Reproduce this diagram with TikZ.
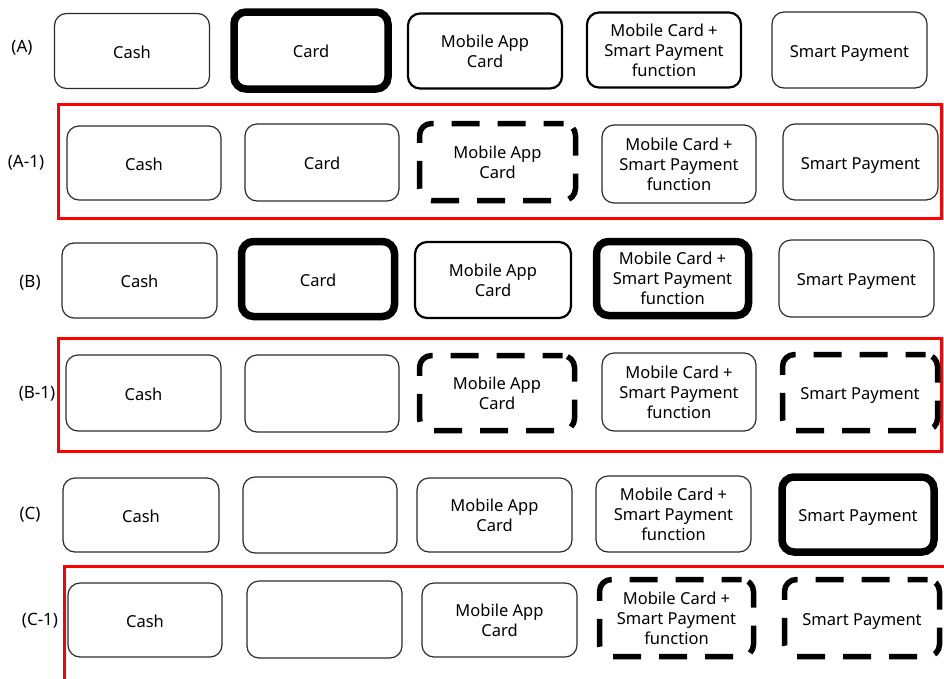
\documentclass[tikz,border=0pt]{standalone}
\usepackage{fontspec}
\setmainfont{Noto Sans}
\definecolor{cFrame}{HTML}{FF0000}
\definecolor{cEdge}{HTML}{2B2B2B}
\tikzset{
  pay/.style={draw=cEdge, line width=1.2pt, rounded corners=12pt, align=center,
    minimum width=155pt, minimum height=75pt, inner sep=2pt,
    font=\fontsize{16.5}{20}\selectfont},
  one/.style={text height=17pt, text depth=3pt},
  paymid/.style={pay, draw=black, line width=2.2pt},
  paybold/.style={pay, draw=black, line width=7.5pt},
  paydash/.style={pay, draw=black, line width=5.5pt, dash pattern=on 28pt off 18pt, dash phase=8pt},
  redframe/.style={draw=cFrame, line width=3pt},
  rowlbl/.style={font=\fontsize{17}{20}\selectfont}
}
\begin{document}
\begin{tikzpicture}[x=1pt, y=-1pt]
  \useasboundingbox (0,0) rectangle (944,678);
  \clip (0,0) rectangle (944,678);
  % moldura vermelha
  \draw[redframe] (58.5,104.5) rectangle (941.5,218.5);
  \draw[redframe] (58.5,338.5) rectangle (941.5,451.5);
  \draw[redframe] (64.5,700) -- (64.5,566.5) -- (960,566.5);
  % linha (A)
  \node[rowlbl] (lA) at (22,48) {(A)};
  \node[pay, one] (Acash) at (132,51) {Cash};
  \node[paybold, one, minimum width=154pt, minimum height=77pt] (Acard) at (311,50.5) {Card};
  \node[paymid, minimum width=154pt] (Aapp) at (485,51) {Mobile App\\Card};
  \node[paymid, minimum width=154pt] (Amob) at (664,50) {Mobile Card +\\Smart Payment\\function};
  \node[pay, one, minimum height=76pt] (Asmart) at (849.5,50) {Smart Payment};
  % linha (A-1)
  \node[rowlbl] (lA1) at (26,163) {(A-1)};
  \node[pay, one, minimum width=154pt, minimum height=74pt] (A1cash) at (144,163) {Cash};
  \node[pay, one, minimum width=154pt, minimum height=77pt] (A1card) at (322,162.5) {Card};
  \node[paydash, minimum width=156pt, minimum height=77pt] (A1app) at (497.5,162) {Mobile App\\Card};
  \node[pay, minimum width=154pt, minimum height=78pt] (A1mob) at (679,164) {Mobile Card +\\Smart Payment\\function};
  \node[pay, one, minimum height=76pt] (A1smart) at (860.5,162) {Smart Payment};
  % linha (B)
  \node[rowlbl] (lB) at (30,283) {(B)};
  \node[pay, one] (Bcash) at (139.5,280.5) {Cash};
  \node[paybold, one, minimum width=153pt] (Bcard) at (318,279) {Card};
  \node[paymid, minimum width=156pt, minimum height=76pt] (Bapp) at (493,280) {Mobile App\\Card};
  \node[paybold, minimum width=152pt, minimum height=74pt] (Bmob) at (672.5,278.5) {Mobile Card +\\Smart Payment\\function};
  \node[pay, one, minimum height=77pt] (Bsmart) at (856.5,278.5) {Smart Payment};
  % linha (B-1)
  \node[rowlbl] (lB1) at (37,394) {(B-1)};
  \node[pay, one, minimum height=76pt] (B1cash) at (143.5,393) {Cash};
  \node[pay, minimum width=154pt, minimum height=77pt] (B1card) at (322,393.5) {};
  \node[paydash] (B1app) at (497,393) {Mobile App\\Card};
  \node[pay, minimum width=154pt, minimum height=78pt] (B1mob) at (679,392) {Mobile Card +\\Smart Payment\\function};
  \node[paydash, one, minimum height=76pt] (B1smart) at (860,392.5) {Smart Payment};
  % linha (C)
  \node[rowlbl] (lC) at (30,515) {(C)};
  \node[pay, one, minimum width=156pt, minimum height=74pt] (Ccash) at (141,515) {Cash};
  \node[pay, minimum width=154pt, minimum height=76pt] (Ccard) at (320,515) {};
  \node[pay, minimum height=74pt] (Capp) at (494.5,515) {Mobile App\\Card};
  \node[pay, minimum height=76pt] (Cmob) at (673.5,514) {Mobile Card +\\Smart Payment\\function};
  \node[paybold, one, minimum width=152pt] (Csmart) at (858,514.5) {Smart Payment};
  % linha (C-1)
  \node[rowlbl] (lC1) at (40,621) {(C-1)};
  \node[pay, one, minimum width=154pt, minimum height=74pt] (C1cash) at (145,620) {Cash};
  \node[pay, minimum height=77pt] (C1card) at (324.5,619.5) {};
  \node[pay, minimum height=74pt] (C1app) at (499.5,620) {Mobile App\\Card};
  \node[paydash, minimum width=154pt, minimum height=77pt] (C1mob) at (676.5,618) {Mobile Card +\\Smart Payment\\function};
  \node[paydash, one, minimum height=77pt] (C1smart) at (862,618) {Smart Payment};
\end{tikzpicture}
\end{document}
